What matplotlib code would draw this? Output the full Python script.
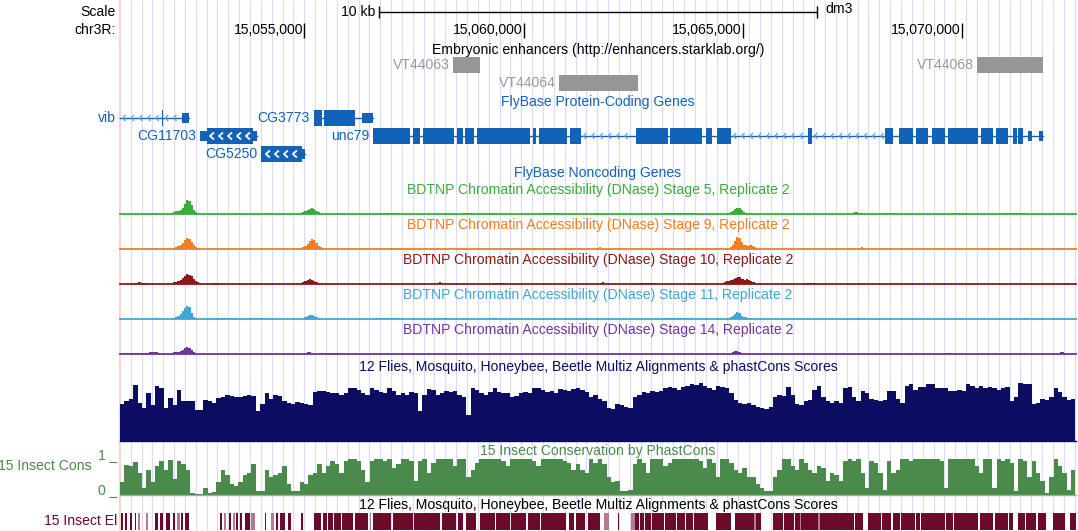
#UCSC browser view of chr3R around unc79 (dm3), redrawn with matplotlib
import numpy as np
import matplotlib
matplotlib.use("Agg")
import matplotlib.pyplot as plt
from matplotlib.patches import Rectangle
from matplotlib.collections import LineCollection

plt.rcParams['font.family'] = ['Liberation Sans', 'DejaVu Sans']

#Window shown: chr3R:15,050,791-15,072,603
win_start = 15050791
win_end = 15072603

#Ruler
tick_pos = [15055000, 15060000, 15065000, 15070000]
tick_labels = ["15,055,000", "15,060,000", "15,065,000", "15,070,000"]
scale_bar_bp = 10000

#Embryonic enhancers (starklab)
enh_names = ["VT44063", "VT44064", "VT44068"]
enh_start = [15058382, 15060800, 15070337]
enh_end = [15059005, 15062617, 15071843]
enh_row = [0, 1, 0]

#FlyBase protein coding genes: exons, thick (CDS) range, strand, row
vib_exons = [(15051740, 15051763), (15052199, 15052372)]
vib_thick = (15049000, 15051763)
cg3773_exons = [(15055217, 15055393), (15055445, 15056153), (15056319, 15056570)]
cg3773_thick = (15055217, 15056153)
cg11703_exons = [(15052616, 15053917)]
cg11703_thick = (15052769, 15053832)
cg5250_exons = [(15054008, 15055012)]
cg5250_thick = (15054008, 15054937)
unc79_exons = [(15056570, 15057408), (15057469, 15057636), (15057697, 15058412),
               (15058487, 15058624), (15058669, 15058868), (15058929, 15060146),
               (15060207, 15060282), (15060344, 15060983), (15061058, 15061302),
               (15062564, 15063301), (15063340, 15064063), (15064161, 15064291),
               (15064405, 15064725), (15066495, 15066573), (15068245, 15068435),
               (15068571, 15068891), (15068953, 15069233), (15069311, 15069614),
               (15069676, 15070374), (15070436, 15070716), (15070771, 15071058),
               (15071173, 15071250), (15071287, 15071401), (15071515, 15071592),
               (15071766, 15071857)]
unc79_thick = (15056570, 15071401)

#BDTNP DNase signal, 50 bp bins, given as (first bin start, values) runs
dnase_bin = 50
stage5_starts = [15051500, 15051950, 15053390, 15054100, 15054490, 15054900, 15055750,
                 15056700, 15058180, 15058570, 15059120, 15060370, 15061630, 15062950,
                 15063180, 15064650, 15067490, 15068200, 15069770, 15070940, 15072190]
stage5_vals = [[1, 1, 1], [1, 2, 3, 3, 4, 6, 10, 14, 13, 9, 4, 2, 1], [1, 1], [1, 1], [1],
               [1, 2, 3, 4, 5, 6, 5, 3, 2, 1], [1, 1], [1, 1, 1, 1, 1, 1, 1, 1, 1], [1, 1],
               [1, 1, 1, 1, 1, 1], [1, 1, 1, 1], [1, 1, 1, 1, 1, 1, 1, 1, 1], [1, 1, 1], [1],
               [1, 1, 1, 1, 1, 1, 1, 1, 1, 1, 1, 1, 1, 1, 1, 1], [1, 2, 3, 5, 6, 6, 4, 2, 1],
               [1, 2, 2, 1, 1], [1, 1, 1, 1, 1, 1, 1], [1, 1, 1, 1, 1, 1, 1],
               [1, 1, 1, 1, 1, 1, 1, 1, 1, 1, 1], [1, 1, 1]]
stage9_starts = [15051350, 15051950, 15053070, 15054180, 15054900, 15056930, 15061660,
                 15063660, 15064650, 15067650, 15071320, 15072190]
stage9_vals = [[1, 1, 1, 1, 1, 1], [1, 1, 2, 3, 4, 6, 9, 11, 10, 7, 4, 2, 1], [1], [1],
               [1, 2, 3, 5, 8, 10, 9, 6, 3, 2, 1], [1, 1, 1], [1, 2], [1, 1, 1],
               [1, 2, 4, 8, 12, 11, 7, 4, 4, 3, 4, 3, 2, 1], [1, 2, 1], [1], [1, 1]]
stage10_starts = [15051110, 15051950, 15052920, 15053870, 15054900, 15058020, 15058660,
                  15059280, 15061740, 15062640, 15063740, 15064520, 15066400, 15067650,
                  15072350]
stage10_vals = [[1, 1, 2, 1, 1, 1], [1, 2, 2, 3, 4, 6, 8, 10, 9, 8, 5, 3, 2, 1], [1, 1, 1],
                [1], [1, 2, 3, 4, 5, 4, 3, 2, 1, 1], [1, 2, 1], [1], [1, 1, 1, 1, 1, 1],
                [1, 2], [1, 1, 1, 1, 1, 1, 1, 1], [1],
                [1, 2, 3, 3, 4, 5, 6, 7, 7, 5, 4, 5, 4, 3, 2, 1], [1, 1, 1, 1, 1], [1], [1, 1]]
stage11_starts = [15051510, 15051950, 15052920, 15053710, 15054950, 15056610, 15058020,
                  15058570, 15059210, 15063190, 15064650, 15067580, 15069930, 15071410,
                  15072190]
stage11_vals = [[1, 1, 1], [1, 1, 2, 3, 5, 8, 11, 13, 12, 6, 2, 1],
                [1, 1, 1, 1, 1, 1, 1, 1, 1, 1, 1], [1, 1, 1, 1, 1, 1, 1, 1, 1],
                [1, 2, 3, 4, 4, 3, 2, 1], [1, 1, 1, 1, 1, 1, 1, 1, 1, 1, 1], [1, 1, 1, 1, 1],
                [1, 1, 1], [1, 1, 1], [1, 1, 1, 1, 1, 1, 1, 1, 1, 1, 1, 1, 1, 1],
                [1, 2, 3, 5, 7, 6, 3, 2, 2, 1, 1], [1, 1], [1, 1], [1, 1], [1, 1]]
stage14_starts = [15050800, 15051950, 15053070, 15054180, 15055000, 15055350, 15057160,
                  15064700, 15068750, 15069610, 15070550, 15071410, 15072190]
stage14_vals = [[1, 1, 1, 1, 1, 1, 1, 1, 1, 1, 1, 1, 1, 2, 2, 2, 2, 1],
                [1, 2, 2, 2, 3, 4, 6, 7, 6, 4, 2, 1], [1], [1], [1, 2, 2, 1],
                [1, 1, 1, 1, 1, 1, 1, 1, 1, 1], [1], [1, 2, 3, 3, 2, 1], [1, 1], [1, 1, 1],
                [1], [1], [1, 2, 2, 1]]

#Multiz conservation score (% of track range), 100 bp bins from win_start
cons_bin = 100
multiz = [56, 60, 63, 85, 58, 50, 72, 55, 84, 80, 50, 65, 54, 78, 60, 61, 60, 47, 47, 62,
          60, 58, 65, 66, 69, 68, 66, 66, 68, 70, 68, 45, 56, 72, 64, 69, 68, 61, 57, 56,
          59, 58, 56, 55, 74, 76, 76, 75, 72, 72, 70, 73, 80, 80, 78,
          72, 70, 80, 78, 74, 73, 80, 76, 70, 72, 70, 74, 73, 45, 70, 79, 77, 70, 72, 76,
          74, 76, 69, 66, 40, 81, 78, 72, 70, 74, 81, 74, 73, 72, 66, 68, 72, 74, 72, 80,
          81, 78, 74, 76, 72, 79, 78, 76, 79, 80, 78, 74, 66, 70, 64,
          60, 50, 48, 56, 55, 52, 50, 66, 70, 74, 72, 76, 75, 76, 80, 82, 80, 78, 82, 84,
          86, 85, 88, 84, 80, 78, 84, 82, 80, 72, 62, 58, 56, 58, 55, 52, 50, 48, 52, 66,
          70, 68, 82, 70, 56, 54, 60, 62, 78, 84, 66, 60, 58, 60, 58,
          80, 82, 66, 60, 76, 72, 64, 62, 60, 62, 76, 76, 64, 58, 84, 86, 78, 82, 82, 86,
          86, 80, 80, 80, 76, 76, 78, 76, 86, 84, 80, 84, 80, 82, 80, 78, 80, 82, 60, 66,
          88, 86, 86, 56, 58, 64, 62, 66, 80, 74, 66, 62, 64]

#15 insect phastCons (0-1), 100 bp bins from win_start
phastcons = [0.35, 0.84, 0.8, 0.93, 0.6, 0.2, 0.7, 0.35, 0.8, 0.95, 0.7, 0.98, 0.45, 0.95,
             0.85, 0.7, 0.05, 0.03, 0.03, 0.2, 0.05, 0.08, 0.35, 0.7, 0.55, 0.3, 0.25, 0.35,
             0.55, 0.6, 0.85, 0.1, 0.1, 0.7, 0.5, 0.55, 0.6, 0.8, 0.3, 0.1, 0.12, 0.35, 0.3,
             0.55, 0.6, 0.85, 0.6, 0.8, 0.95, 0.85, 0.6, 0.95, 1.0, 1.0, 0.95,
             0.7, 0.35, 0.95, 1, 1, 0.95, 1, 0.75, 0.85, 1, 1, 0.95, 0.4, 0.95, 1, 0.6, 0.9,
             1, 1, 1, 1, 0.8, 1, 1, 0.5, 0.7, 0.9, 1, 1, 1, 1, 1, 0.95, 0.8, 1, 1, 1, 1, 1,
             0.95, 0.8, 1, 1, 1, 1, 1, 0.95, 0.9, 0.7, 0.85, 0.7, 0.6, 1, 0.9, 1,
             0.85, 0.5, 0.35, 0.4, 0.1, 0.1, 0.15, 0.85, 1, 0.9, 0.6, 1, 1, 1, 0.8, 0.9, 1,
             1, 1, 1, 1, 1, 0.95, 0.75, 1, 0.9, 0.5, 1, 1, 0.9, 0.7, 0.6, 0.75, 0.5, 0.5,
             0.3, 0.2, 0.1, 0.1, 0.5, 0.7, 1, 1, 0.8, 0.7, 1, 0.9, 0.7, 0.6, 0.8, 0.75, 0.4,
             0.6, 0.55, 0.4,
             0.95, 1, 0.95, 1, 0.6, 0.2, 0.95, 0.9, 0.6, 0.15, 0.95, 0.6, 0.7, 1, 1, 0.95,
             1, 1, 1, 1, 1, 1, 0.95, 0.2, 1, 1, 1, 1, 1, 1, 0.8, 0.6, 1, 1, 0.2, 1, 0.95, 1,
             0.9, 0.1, 1, 0.95, 0.5, 0.95, 0.6, 0.4, 0.05, 0.5, 1, 0.8, 0.6, 0.15, 0.7]

#15 insect conserved elements
el_start = [15050807, 15050898, 15051012, 15051126, 15051583, 15051710, 15051847, 15052000,
            15052176, 15052267, 15053066, 15053278, 15053444, 15053522, 15053650, 15054092,
            15054357, 15054435, 15054624, 15054927, 15055217, 15055423, 15055548, 15055674,
            15055856, 15056146, 15056563, 15057020, 15057510, 15058131, 15058510, 15058685,
            15058998, 15059377, 15059719, 15060100, 15060403, 15061035, 15061195, 15061469,
            15062153, 15062534, 15062662, 15062776, 15062929, 15063233, 15063499, 15063705,
            15063876, 15064396, 15064816, 15065044, 15065300, 15065690, 15065934, 15066085,
            15066192, 15066340, 15066450, 15066760, 15066869,
            15067561, 15067857, 15068024, 15068177, 15068428, 15068617, 15068959, 15069060,
            15069644, 15069813, 15070406, 15070748, 15070990, 15071068, 15071280, 15071469,
            15071736, 15072078, 15072459]
el_end = [15050853, 15050958, 15051065, 15051163, 15051658, 15051772, 15051925, 15052053,
          15052228, 15052358, 15053118, 15053330, 15053483, 15053574, 15053757, 15054129,
          15054396, 15054562, 15054686, 15054973, 15055384, 15055514, 15055651, 15055826,
          15056107, 15056449, 15056981, 15057476, 15058081, 15058457, 15058617, 15058913,
          15059340, 15059682, 15060061, 15060367, 15060974, 15061150, 15061394, 15061743,
          15062176, 15062639, 15062753, 15062906, 15063210, 15063477, 15063682, 15063858,
          15064207, 15064738, 15065044, 15065250, 15065423, 15065918, 15066071, 15066180,
          15066300, 15066440, 15066717, 15066869, 15067538,
          15067743, 15068010, 15068161, 15068389, 15068581, 15068923, 15069037, 15069607,
          15069790, 15070367, 15070709, 15070976, 15071052, 15071166, 15071433, 15071697,
          15071925, 15072345, 15072603]
el_low_start = [15051202, 15051391, 15052098, 15053164, 15053369, 15053787, 15054243,
                15056488, 15061834, 15062457, 15065250, 15066300, 15066717]
el_low_end = [15051247, 15051430, 15052153, 15053216, 15053408, 15053864, 15054298,
              15056525, 15061948, 15062534, 15065300, 15066340, 15066760]

#Colours
gene_col = '#1262b8'
intron_col = '#5d9bd8'
grid_col = '#dadafb'
stage_cols = ['#3aac3a', '#f47d20', '#8c1818', '#41a6d6', '#7034a0']
navy = '#0b0d62'
cons_green = '#4a8a4a'
el_col = '#6c0a2a'
el_low = '#b67a8e'
fs = 10.1

#Layout: 1078 x 531 px, tracks drawn between px 120 and 1076
W, H = 1078, 531
left, right = 120, 1076
ppb = (right - left) / (win_end - win_start)
x0 = win_start - left / ppb
x1 = win_start + (W - left) / ppb
mid = (win_start + win_end) / 2


def px(p):
    # pixel column -> bp, used only to place margin text
    return x0 + p / ppb


fig = plt.figure(figsize=(W / 100, H / 100), dpi=100)
ax = fig.add_axes([0, 0, 1, 1])
ax.set_xlim(x0, x1)
ax.set_ylim(H, 0)
ax.axis('off')

#guidelines and left border
guides = np.arange(px(130.67), win_end, 10.85 / ppb)
ax.vlines(guides, 0, H, color=grid_col, lw=0.8, zorder=0)
ax.vlines(px(119.5), 0, H, color='#ffcfcf', lw=1.3, zorder=0)

#scale + ruler
sb0, sb1 = mid - scale_bar_bp / 2, mid + scale_bar_bp / 2
ax.plot([sb0, sb1], [12, 12], color='black', lw=1)
ax.vlines([sb0, sb1], 6, 18, color='black', lw=1)
ax.text(sb0 - 3 / ppb, 12, "10 kb", ha='right', va='center', fontsize=fs)
ax.text(sb1 + 8 / ppb, 9, "dm3", ha='left', va='center', fontsize=fs)
ax.text(px(116), 12, "Scale", ha='right', va='center', fontsize=fs)
ax.text(px(116), 30, "chr3R:", ha='right', va='center', fontsize=fs)
ax.vlines(tick_pos, 23, 38, color='black', lw=1)
for tp, tl in zip(tick_pos, tick_labels):
    ax.text(tp - 1 / ppb, 30, tl, ha='right', va='center', fontsize=fs)

#enhancers
ax.text(mid, 50, "Embryonic enhancers (http://enhancers.starklab.org/)", ha='center',
        va='center', fontsize=fs)
enh_y = [65, 83]
for n, s, e, r in zip(enh_names, enh_start, enh_end, enh_row):
    ax.add_patch(Rectangle((s, enh_y[r] - 8), e - s, 16, color='#969696', lw=0))
    ax.text(s - 3 / ppb, enh_y[r], n, ha='right', va='center', fontsize=fs, color='#999999')

#genes
ax.text(mid, 102, "FlyBase Protein-Coding Genes", ha='center', va='center', fontsize=fs,
        color=gene_col)


def arrow(xa, y, w, h, strand):
    d = w / ppb if strand == '-' else -w / ppb
    return [(xa + d, y - h), (xa, y), (xa + d, y + h)]


def draw_gene(exons, thick, y, label, strand, tx_start=None, inner=False):
    tx0 = exons[0][0] if tx_start is None else tx_start
    tx1 = exons[-1][1]
    ax.plot([max(tx0, win_start), tx1], [y, y], color=gene_col, lw=1, zorder=3)
    gaps = [(tx0, exons[0][0])] + [(exons[i][1], exons[i + 1][0]) for i in range(len(exons) - 1)]
    segs = []
    for g0, g1 in gaps:
        g0 = max(g0, win_start)
        if (g1 - g0) * ppb < 9:
            continue
        for xa in np.arange(g0 + 3 / ppb, g1 - 3 / ppb, 8.3 / ppb):
            segs.append(arrow(xa, y, 2.5, 3, strand))
    ax.add_collection(LineCollection(segs, colors=intron_col, lw=0.9, zorder=4))
    for s, e in exons:
        ts, te = max(s, thick[0]), min(e, thick[1])
        if te > ts:
            ax.add_patch(Rectangle((ts, y - 8), max(te - ts, 1.3 / ppb), 16, color=gene_col,
                                   lw=0, zorder=5))
        for us, ue in [(s, min(e, thick[0])), (max(s, thick[1]), e)]:
            if ue > us:
                ax.add_patch(Rectangle((us, y - 5), max(ue - us, 1.3 / ppb), 10, color=gene_col,
                                       lw=0, zorder=5))
        if inner and te > ts:
            n = int((te - ts) * ppb / 9)
            first = ts + ((te - ts) - (n - 1) * 9 / ppb) / 2 - 2 / ppb
            wsegs = [arrow(first + k * 9 / ppb, y, 4, 3.5, strand) for k in range(n)]
            ax.add_collection(LineCollection(wsegs, colors='white', lw=1.3, zorder=6))
    lx = max(tx0, win_start) - 4 / ppb
    ax.text(lx, y, label, ha='right', va='center', fontsize=fs, color=gene_col)


draw_gene(vib_exons, vib_thick, 118, "vib", '-', tx_start=15049000)
draw_gene(cg3773_exons, cg3773_thick, 118, "CG3773", '+')
draw_gene(cg11703_exons, cg11703_thick, 136, "CG11703", '-', inner=True)
draw_gene(unc79_exons, unc79_thick, 136, "unc79", '-')
draw_gene(cg5250_exons, cg5250_thick, 154, "CG5250", '-', inner=True)

ax.text(mid, 173, "FlyBase Noncoding Genes", ha='center', va='center', fontsize=fs,
        color=gene_col)

#BDTNP DNase tracks
stage_names = ["5", "9", "10", "11", "14"]
stage_starts = [stage5_starts, stage9_starts, stage10_starts, stage11_starts, stage14_starts]
stage_vals = [stage5_vals, stage9_vals, stage10_vals, stage11_vals, stage14_vals]
for i, (nm, sts, vls, col) in enumerate(zip(stage_names, stage_starts, stage_vals, stage_cols)):
    top = 190 + 35 * i
    base = 214 + 35 * i
    ax.text(mid, top, "BDTNP Chromatin Accessibility (DNase) Stage %s, Replicate 2" % nm,
            ha='center', va='center', fontsize=fs, color=col)
    ax.plot([win_start, win_end], [base, base], color=col, lw=1.3, zorder=3)
    for st, v in zip(sts, vls):
        xs = st + dnase_bin * np.arange(len(v))
        ax.bar(xs, -np.array(v, dtype=float), width=dnase_bin, bottom=base, align='edge',
               color=col, lw=0, zorder=3)

#Multiz
bins = win_start + cons_bin * np.arange(len(multiz))
ax.text(mid, 367, "12 Flies, Mosquito, Honeybee, Beetle Multiz Alignments & phastCons Scores",
        ha='center', va='center', fontsize=fs, color=navy)
ax.bar(bins, -np.array(multiz) / 100 * 66, width=cons_bin, bottom=441, align='edge',
       color=navy, lw=0, zorder=3)
ax.plot([win_start, win_end], [441, 441], color=navy, lw=1, zorder=3)

#phastCons
ax.text(mid, 451, "15 Insect Conservation by PhastCons", ha='center', va='center',
        fontsize=fs, color=cons_green)
ax.bar(bins, -np.array(phastcons) * 36, width=cons_bin, bottom=495, align='edge',
       color=cons_green, lw=0, zorder=3)
ax.plot([win_start, win_end], [495, 495], color='#8fb88f', lw=1, zorder=3)
ax.text(px(92), 466, "15 Insect Cons", ha='right', va='center', fontsize=fs, color=cons_green)
ax.text(px(117), 459, "1 _", ha='right', va='baseline', fontsize=fs, color=cons_green)
ax.text(px(117), 494, "0 _", ha='right', va='baseline', fontsize=fs, color=cons_green)

#conserved elements
ax.text(mid, 505, "12 Flies, Mosquito, Honeybee, Beetle Multiz Alignments & phastCons Scores",
        ha='center', va='center', fontsize=fs, color='black')
ax.broken_barh([(s, e - s) for s, e in zip(el_low_start, el_low_end)], (513, 17),
               facecolors=el_low, lw=0, zorder=3)
ax.broken_barh([(s, e - s) for s, e in zip(el_start, el_end)], (513, 17),
               facecolors=el_col, lw=0, zorder=3)
ax.text(px(117), 521, "15 Insect El", ha='right', va='center', fontsize=fs, color=el_col)

fig.savefig("out.png", dpi=100, facecolor='white')
